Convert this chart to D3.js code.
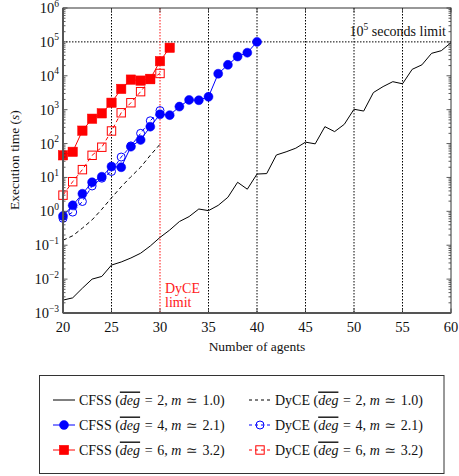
<!DOCTYPE html>
<html>
<head>
<meta charset="utf-8">
<script src="https://cdn.jsdelivr.net/npm/d3@7"></script>
<style>
  body { margin: 0; background: #fff; }
  svg text { font-family: "Liberation Serif", "DejaVu Serif", serif; fill: #111; }
</style>
</head>
<body>
<div id="chart"></div>
<script>
// agents on the x axis
const agentsShort = d3.range(20, 32);   // 20..31
const agentsMid = d3.range(20, 41);     // 20..40
const agentsLong = d3.range(20, 61);    // 20..60

// CFSS runs (seconds)
const cfssDeg2 = [0.0024, 0.0028, 0.0054, 0.010, 0.012, 0.026, 0.032, 0.042, 0.058, 0.095,
  0.17, 0.28, 0.50, 0.70, 1.17, 1.05, 1.5, 2.6, 7.2, 4.5,
  12.6, 13, 46, 57, 73, 110, 98, 315, 225, 370,
  1030, 910, 3200, 4800, 6700, 5800, 15500, 21000, 46000, 55000, 95000];
const cfssDeg4 = [0.73, 1.5, 3.3, 7.2, 10.5, 21, 20, 81, 128, 315,
  730, 690, 1230, 1940, 1900, 2400, 11500, 21000, 37000, 48000, 100000];
const cfssDeg6 = [45, 57, 240, 540, 780, 1600, 4100, 7700, 7200, 8100, 27000, 67000];

// DyCE runs (seconds), stop at 30 agents
const dyceDeg2 = [0.14, 0.19, 0.32, 0.56, 1.15, 2.5, 5.3, 10.5, 20, 45, 95];
const dyceDeg4 = [0.62, 0.95, 1.95, 5.6, 9.5, 15, 40, 85, 200, 470, 940];
const dyceDeg6 = [3.0, 7.5, 17, 45, 78, 235, 810, 1600, 3400, 7800, 11700];

const xTicks = [20, 25, 30, 35, 40, 45, 50, 55, 60];
const yTicks = [-3, -2, -1, 0, 1, 2, 3, 4, 5, 6];
const gridAgents = [25, 35, 40, 45, 50, 55];
const timeLimit = 1e5;
const dyceLimit = 30;

const legendRows = [
  { name: "CFSS", deg: 2, m: "1.0" },
  { name: "CFSS", deg: 4, m: "2.1" },
  { name: "CFSS", deg: 6, m: "3.2" },
  { name: "DyCE", deg: 2, m: "1.0" },
  { name: "DyCE", deg: 4, m: "2.1" },
  { name: "DyCE", deg: 6, m: "3.2" }
];

const width = 459, height = 476;
const pLeft = 63, pRight = 451, pTop = 8, pBottom = 313;

const svg = d3.select("#chart").append("svg")
  .attr("width", width)
  .attr("height", height);

const x = d3.scaleLinear().domain([20, 60]).range([pLeft, pRight]);
const y = d3.scaleLog().domain([1e-3, 1e6]).range([pBottom, pTop]);

const series = [
  { xs: agentsShort.slice(0, 11), ys: dyceDeg2, color: "#000", dash: "4,3", marker: null },
  { xs: agentsShort.slice(0, 11), ys: dyceDeg4, color: "#0000ff", dash: "4,3", marker: "circle", filled: false },
  { xs: agentsShort.slice(0, 11), ys: dyceDeg6, color: "#ff0000", dash: "4,3", marker: "square", filled: false },
  { xs: agentsLong, ys: cfssDeg2, color: "#000", dash: null, marker: null },
  { xs: agentsMid, ys: cfssDeg4, color: "#0000ff", dash: null, marker: "circle", filled: true },
  { xs: agentsShort, ys: cfssDeg6, color: "#ff0000", dash: null, marker: "square", filled: true }
];

// grid lines
svg.append("g").selectAll("line")
  .data(gridAgents)
  .enter().append("line")
    .attr("x1", d => x(d)).attr("x2", d => x(d))
    .attr("y1", pTop).attr("y2", pBottom)
    .attr("stroke", "#000")
    .attr("stroke-width", 1)
    .attr("stroke-dasharray", "1.5,1.5");

svg.append("line")
  .attr("x1", pLeft).attr("x2", pRight)
  .attr("y1", y(timeLimit)).attr("y2", y(timeLimit))
  .attr("stroke", "#000")
  .attr("stroke-dasharray", "1.5,1.5");

svg.append("line")
  .attr("x1", x(dyceLimit)).attr("x2", x(dyceLimit))
  .attr("y1", pTop).attr("y2", pBottom)
  .attr("stroke", "#ff4444")
  .attr("stroke-opacity", 0.8)
  .attr("stroke-width", 1.6)
  .attr("stroke-dasharray", "1.5,1.5");

// annotations
const limText = svg.append("text")
  .attr("x", 446).attr("y", 36)
  .attr("text-anchor", "end")
  .style("font-size", "14px");
limText.append("tspan").text("10");
limText.append("tspan").attr("dy", -6).style("font-size", "9.5px").text("5");
limText.append("tspan").attr("dy", 6).text(" seconds limit");

svg.append("text").attr("x", 165).attr("y", 293)
  .style("font-size", "14px").style("fill", "#ff2020").text("DyCE");
svg.append("text").attr("x", 165).attr("y", 307)
  .style("font-size", "14px").style("fill", "#ff2020").text("limit");

// series
const line = d3.line().x(d => x(d[0])).y(d => y(d[1]));

series.forEach(function(s) {
  const pts = s.xs.map((a, i) => [a, s.ys[i]]);
  svg.append("path")
    .datum(pts)
    .attr("d", line)
    .attr("fill", "none")
    .attr("stroke", s.color)
    .attr("stroke-width", 1)
    .attr("stroke-dasharray", s.dash);
  if (s.marker) drawMarkers(svg, pts.map(p => [x(p[0]), y(p[1])]), s);
});

function drawMarkers(g, pts, s) {
  if (s.marker === "circle") {
    g.append("g").selectAll("circle")
      .data(pts)
      .enter().append("circle")
        .attr("cx", d => d[0]).attr("cy", d => d[1])
        .attr("r", s.filled ? 4.5 : 4)
        .attr("fill", s.filled ? s.color : "none")
        .attr("stroke", s.color)
        .attr("stroke-width", s.filled ? 0.5 : 1);
  } else {
    const h = s.filled ? 4.7 : 4.2;
    g.append("g").selectAll("rect")
      .data(pts)
      .enter().append("rect")
        .attr("x", d => d[0] - h).attr("y", d => d[1] - h)
        .attr("width", 2 * h).attr("height", 2 * h)
        .attr("fill", s.filled ? s.color : "none")
        .attr("stroke", s.color)
        .attr("stroke-width", s.filled ? 0.5 : 1);
  }
}

// axes frame with inward ticks
const frame = svg.append("g");
const minor = [];
for (let e = -3; e < 6; e++) for (let k = 2; k < 10; k++) minor.push(k * Math.pow(10, e));

[pLeft, pRight].forEach(function(px) {
  const dir = px === pLeft ? 1 : -1;
  frame.append("g").selectAll("line")
    .data(minor).enter().append("line")
      .attr("x1", px).attr("x2", px + dir * 2.5)
      .attr("y1", d => y(d)).attr("y2", d => y(d))
      .attr("stroke", "#333").attr("stroke-width", 0.8);
  frame.append("g").selectAll("line")
    .data(yTicks).enter().append("line")
      .attr("x1", px).attr("x2", px + dir * 4.5)
      .attr("y1", d => y(Math.pow(10, d))).attr("y2", d => y(Math.pow(10, d)))
      .attr("stroke", "#333").attr("stroke-width", 0.8);
});
[pTop, pBottom].forEach(function(py) {
  const dir = py === pBottom ? -1 : 1;
  frame.append("g").selectAll("line")
    .data(xTicks).enter().append("line")
      .attr("x1", d => x(d)).attr("x2", d => x(d))
      .attr("y1", py).attr("y2", py + dir * 4.5)
      .attr("stroke", "#333").attr("stroke-width", 0.8);
});

frame.append("rect")
  .attr("x", pLeft).attr("y", pTop)
  .attr("width", pRight - pLeft).attr("height", pBottom - pTop)
  .attr("fill", "none")
  .attr("stroke", "#333")
  .attr("stroke-width", 1);
frame.append("line")
  .attr("x1", pLeft).attr("x2", pLeft).attr("y1", pTop).attr("y2", pBottom)
  .attr("stroke", "#555").attr("stroke-width", 2);
frame.append("line")
  .attr("x1", pLeft).attr("x2", pRight).attr("y1", pBottom).attr("y2", pBottom)
  .attr("stroke", "#555").attr("stroke-width", 2);

// tick labels
svg.append("g").selectAll("text")
  .data(xTicks).enter().append("text")
    .attr("x", d => x(d)).attr("y", 332)
    .attr("text-anchor", "middle")
    .style("font-size", "14.5px")
    .text(d => d);

const yl = svg.append("g").selectAll("text")
  .data(yTicks).enter().append("text")
    .attr("x", 59).attr("y", d => y(Math.pow(10, d)) + 5)
    .attr("text-anchor", "end")
    .style("font-size", "14.5px");
yl.append("tspan").text("10");
yl.append("tspan").attr("dy", -6.5).style("font-size", "9.5px")
  .text(d => d < 0 ? "\u2212" + (-d) : d);

svg.append("text")
  .attr("x", 257).attr("y", 351)
  .attr("text-anchor", "middle")
  .style("font-size", "13.5px")
  .text("Number of agents");

const yt = svg.append("text")
  .attr("transform", "translate(19,160) rotate(-90)")
  .attr("text-anchor", "middle")
  .style("font-size", "13.5px");
yt.append("tspan").text("Execution time (");
yt.append("tspan").style("font-style", "italic").text("s");
yt.append("tspan").text(")");

// legend
const lg = svg.append("g");
lg.append("rect")
  .attr("x", 39.5).attr("y", 375.5)
  .attr("width", 404.5).attr("height", 98)
  .attr("fill", "#fff")
  .attr("stroke", "#333").attr("stroke-width", 1);

const sp = "\u2004";
legendRows.forEach(function(r, i) {
  const s = series[r.name === "CFSS" ? 3 + (i % 3) : i % 3];
  const col = r.name === "CFSS" ? 0 : 1;
  const lx = col === 0 ? 53 : 249;
  const ly = 400 + (i % 3) * 25;
  lg.append("line")
    .attr("x1", lx).attr("x2", lx + 22)
    .attr("y1", ly).attr("y2", ly)
    .attr("stroke", s.color)
    .attr("stroke-width", 1)
    .attr("stroke-dasharray", s.dash ? "3,3" : null);
  if (s.marker) drawMarkers(lg, [[lx + 11, ly]], s);
  const t = lg.append("text")
    .attr("x", lx + 26).attr("y", ly + 4.5)
    .style("font-size", "14px");
  t.append("tspan").text(r.name + " (");
  t.append("tspan").style("font-style", "italic")
    .attr("text-decoration", "overline")
    .style("text-decoration", "overline")
    .text("deg");
  t.append("tspan").text(sp + "=" + sp + r.deg + ", ");
  t.append("tspan").style("font-style", "italic").text("m");
  t.append("tspan").text(sp + "\u2243" + sp + r.m + ")");
});
</script>
</body>
</html>
